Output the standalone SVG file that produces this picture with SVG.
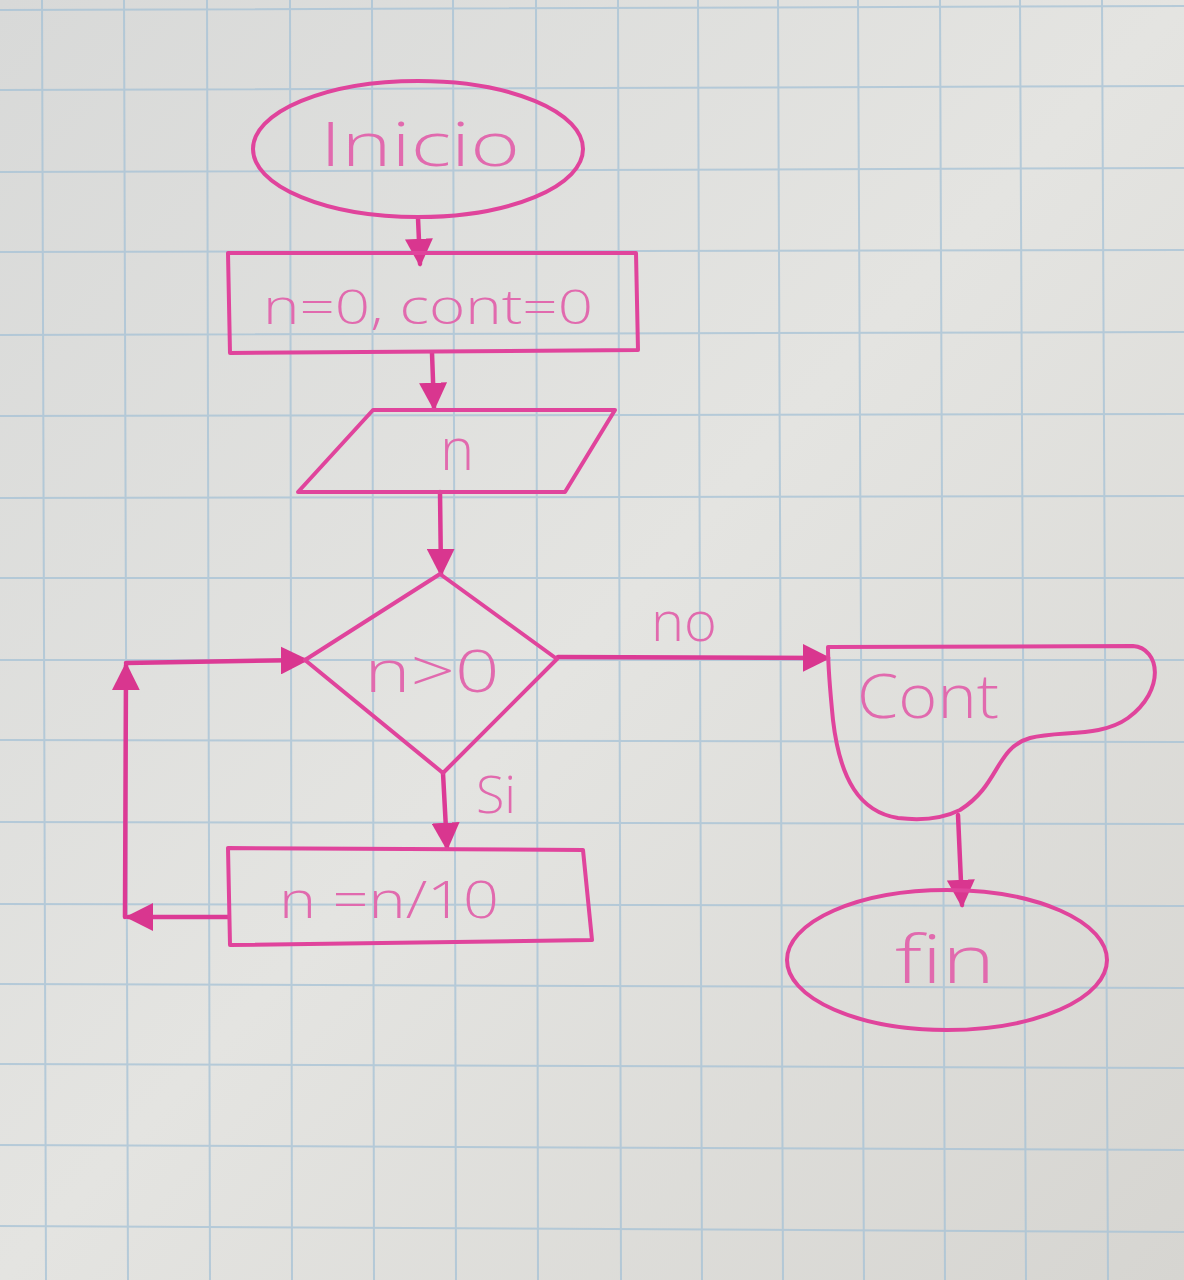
<svg xmlns="http://www.w3.org/2000/svg" width="1184" height="1280" viewBox="0 0 1184 1280">
<defs>
<style>
.paper{fill:#dfdfdc}
.grid{stroke:#a6c2d6;stroke-width:2;fill:none;opacity:0.75}
.shape{fill:none;stroke:#e0449c;stroke-width:4;stroke-linejoin:round;stroke-linecap:round}
.conn{fill:none;stroke:#dc3a95;stroke-width:4.5;stroke-linecap:round}
.lbl{fill:#e16aae;font-family:"Open Sans","Liberation Sans","DejaVu Sans",sans-serif;font-weight:300;text-anchor:middle}
</style>
<marker id="ah" viewBox="0 0 10 10" refX="9" refY="5" markerUnits="userSpaceOnUse" markerWidth="28" markerHeight="28" orient="auto">
<path d="M0,0 L10,5 L0,10 z" fill="#d9368f"/>
</marker>
<linearGradient id="shade" x1="0" y1="0" x2="1" y2="1">
<stop offset="0" stop-color="#d8d9d8"/>
<stop offset="0.5" stop-color="#e4e4e1"/>
<stop offset="1" stop-color="#d6d5d1"/>
</linearGradient>
</defs>
<rect class="paper" x="0" y="0" width="1184" height="1280" style="fill:url(#shade)"/>
<g id="grid" class="grid">
<path d="M42,0 L46,1280 M124,0 L128,1280 M207,0 L210,1280 M290,0 L292,1280 M372,0 L374,1280 M453,0 L456,1280 M536,0 L538,1280 M618,0 L621,1280 M698,0 L702,1280 M778,0 L783,1280 M858,0 L864,1280 M940,0 L945,1280 M1020,0 L1026,1280 M1102,0 L1108,1280"/>
<path d="M0,10 L1184,6 M0,90 L1184,86 M0,172 L1184,168 M0,252 L1184,250 M0,335 L1184,332 M0,416 L1184,414 M0,498 L1184,496 M0,578 L1184,578 M0,660 L1184,660 M0,740 L1184,742 M0,822 L1184,824 M0,904 L1184,906 M0,984 L1184,988 M0,1064 L1184,1068 M0,1145 L1184,1150 M0,1226 L1184,1232"/>
</g>
<g id="connectors">
<path class="conn" d="M418,218 L420,264" marker-end="url(#ah)"/>
<path class="conn" d="M432,353 L434,408" marker-end="url(#ah)"/>
<path class="conn" d="M440,492 L441,574" marker-end="url(#ah)"/>
<path class="conn" d="M558,657 L828,658" marker-end="url(#ah)"/>
<path class="conn" d="M443,773 L447,848" marker-end="url(#ah)"/>
<path class="conn" d="M228,917 L128,917" marker-end="url(#ah)"/>
<path class="conn" d="M125,917 L126,665" marker-end="url(#ah)"/>
<path class="conn" d="M126,663 L306,660" marker-end="url(#ah)"/>
<path class="conn" d="M958,815 L962,905" marker-end="url(#ah)"/>
<text class="lbl" x="684" y="641" font-size="56">no</text>
<text class="lbl" x="496" y="813" font-size="52">Si</text>
</g>
<g id="inicio">
<ellipse class="shape" cx="418" cy="149" rx="165" ry="68"/>
<text class="lbl" x="420" y="166" font-size="60" textLength="200" lengthAdjust="spacingAndGlyphs">Inicio</text>
</g>
<g id="init">
<path class="shape" d="M228,253 L636,253 L638,350 L230,353 Z"/>
<text class="lbl" x="428" y="324" font-size="48" textLength="330" lengthAdjust="spacingAndGlyphs">n=0, cont=0</text>
</g>
<g id="input">
<path class="shape" d="M373,410 L615,410 L565,492 L298,492 Z"/>
<text class="lbl" x="457" y="470" font-size="58">n</text>
</g>
<g id="decision">
<path class="shape" d="M440,574 L557,659 L443,773 L305,660 Z"/>
<text class="lbl" x="432" y="692" font-size="58" textLength="135" lengthAdjust="spacingAndGlyphs">n&gt;0</text>
</g>
<g id="divide">
<path class="shape" d="M228,848 L583,850 L592,940 L230,945 Z"/>
<text class="lbl" x="389" y="918" font-size="52" textLength="220" lengthAdjust="spacingAndGlyphs">n =n/10</text>
</g>
<g id="output">
<path class="shape" d="M828,647 L1133,646 C1160,648 1166,690 1128,718 C1100,738 1060,730 1030,738 C995,748 1000,785 960,810 C940,820 915,820 898,818 C860,812 840,780 833,720 C830,690 828,670 828,647 Z"/>
<text class="lbl" x="928" y="718" font-size="60" textLength="142" lengthAdjust="spacingAndGlyphs">Cont</text>
</g>
<g id="fin">
<ellipse class="shape" cx="947" cy="960" rx="160" ry="70"/>
<text class="lbl" x="945" y="983" font-size="66" textLength="100" lengthAdjust="spacingAndGlyphs">fin</text>
</g>
</svg>
